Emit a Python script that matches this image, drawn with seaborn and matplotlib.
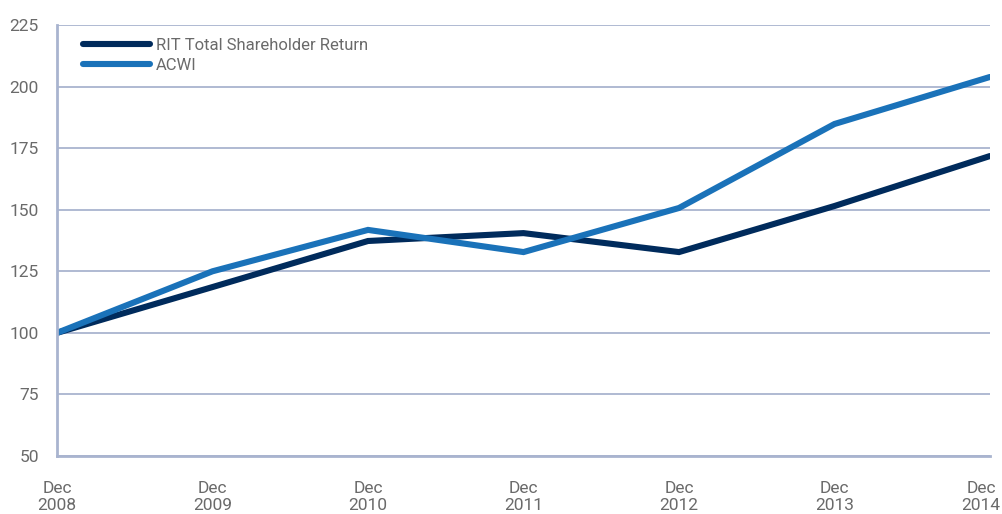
import matplotlib
matplotlib.use("Agg")
import matplotlib.pyplot as plt
import matplotlib.transforms as mtransforms
import seaborn as sns
import pandas as pd

## data
periods = ["Dec\n2008", "Dec\n2009", "Dec\n2010", "Dec\n2011", "Dec\n2012", "Dec\n2013", "Dec\n2014"]
rit_tsr = [100, 118.6, 137.3, 140.5, 132.8, 151.5, 171.8]
acwi = [100, 125.0, 141.8, 132.8, 150.7, 184.8, 203.9]
series_names = ["RIT Total Shareholder Return", "ACWI"]
y_ticks = [50, 75, 100, 125, 150, 175, 200, 225]

## build long table
df = pd.DataFrame({
    "pos": list(range(len(periods))) * 2,
    "value": rit_tsr + acwi,
    "series": [series_names[0]] * len(periods) + [series_names[1]] * len(periods),
})

## style
sns.set_style("white")
plt.rcParams["font.family"] = ["Roboto", "DejaVu Sans"]
grid_color = "#a9b4cf"
text_color = "#6a6a6a"
palette = {series_names[0]: "#002b5c", series_names[1]: "#1a72b9"}

fig = plt.figure(figsize=(10.02, 5.14), dpi=100)
ax = fig.add_axes([0.0569, 0.1128, 0.9311, 0.8386])

sns.lineplot(data=df, x="pos", y="value", hue="series", palette=palette,
             linewidth=4.4, ax=ax, solid_capstyle="round", solid_joinstyle="miter")

## axes
ax.set_xlim(0, len(periods) - 1)
ax.set_ylim(50, 225)
ax.set_yticks(y_ticks)
ax.set_xticks(range(len(periods)))
ax.set_xticklabels(periods)
ax.set_xlabel("")
ax.set_ylabel("")
ax.yaxis.grid(True, color=grid_color, linewidth=1.3)
ax.set_axisbelow(True)
for side in ["top", "right"]:
    ax.spines[side].set_visible(False)
for side in ["left", "bottom"]:
    ax.spines[side].set_color(grid_color)
    ax.spines[side].set_linewidth(2)
ax.tick_params(axis="y", length=5, width=1.3, color=grid_color, labelsize=12.5,
               labelcolor=text_color, pad=8)
ax.tick_params(axis="x", length=8, width=2, color=grid_color, labelsize=12.5,
               labelcolor=text_color, pad=10)

## last label pulled in from the edge
last = ax.get_xticklabels()[-1]
last.set_transform(last.get_transform() + mtransforms.ScaledTranslation(-9 / 100, 0, fig.dpi_scale_trans))

## legend
leg = ax.legend(loc="upper left", frameon=False, fontsize=12, handlelength=4.0,
                handletextpad=0.35, labelspacing=0.3, bbox_to_anchor=(0.021, 0.985),
                borderaxespad=0)
for t in leg.get_texts():
    t.set_color(text_color)

plt.savefig("out.png", dpi=100)
plt.close()
